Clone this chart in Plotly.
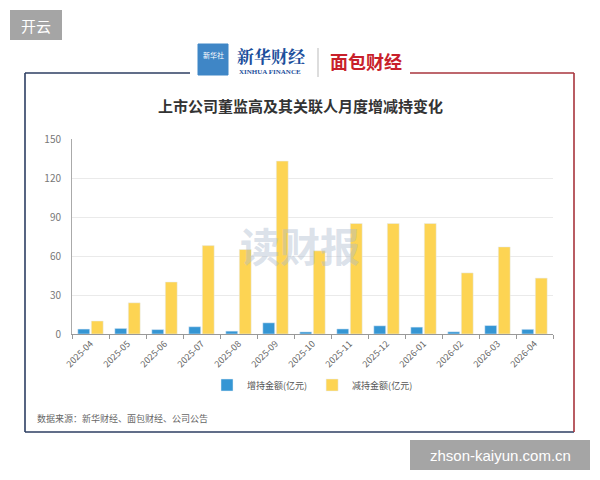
import plotly.graph_objects as go

months = ["2025-04", "2025-05", "2025-06", "2025-07", "2025-08", "2025-09", "2025-10",
          "2025-11", "2025-12", "2026-01", "2026-02", "2026-03", "2026-04"]
increase = [3.8, 4.3, 3.4, 5.6, 2.2, 8.6, 1.6, 3.9, 6.3, 5.3, 1.7, 6.5, 3.6]
decrease = [10, 24, 40, 68, 65, 133, 64, 85, 85, 85, 47, 67, 43]
y_ticks = [0, 30, 60, 90, 120, 150]

title = "上市公司董监高及其关联人月度增减持变化"
name_inc = "增持金额(亿元)"
name_dec = "减持金额(亿元)"
source = "数据来源：新华财经、面包财经、公司公告"

CJK = "Noto Sans CJK SC"
W, H = 600, 480
L, R, T, B = 72, 553, 139, 334  # plot area in pixels


def px(x):
    return (x - L) / (R - L)


def py(y):
    return (B - y) / (B - T)


fig = go.Figure()
fig.add_trace(go.Bar(x=months, y=increase, name=name_inc, marker_color="#3596d4"))
fig.add_trace(go.Bar(x=months, y=decrease, name=name_dec, marker_color="#fdd453"))

shapes = []
blue_line = "#2c3e62"
red_line = "#a8343c"
shapes.append(dict(type="line", xref="paper", yref="paper", x0=px(25), y0=py(73), x1=px(25), y1=py(432),
                   line=dict(color=blue_line, width=1.6)))
shapes.append(dict(type="line", xref="paper", yref="paper", x0=px(25), y0=py(73), x1=px(190), y1=py(73),
                   line=dict(color=blue_line, width=1.6)))
shapes.append(dict(type="line", xref="paper", yref="paper", x0=px(25), y0=py(432), x1=px(574), y1=py(432),
                   line=dict(color=blue_line, width=1.6)))
shapes.append(dict(type="line", xref="paper", yref="paper", x0=px(410), y0=py(73), x1=px(574), y1=py(73),
                   line=dict(color=red_line, width=1.6)))
shapes.append(dict(type="line", xref="paper", yref="paper", x0=px(574), y0=py(73), x1=px(574), y1=py(432),
                   line=dict(color=red_line, width=1.6)))
shapes.append(dict(type="rect", xref="paper", yref="paper", x0=px(198), y0=py(44), x1=px(228), y1=py(75),
                   fillcolor="#3f86c6", line=dict(color="#3f86c6", width=1)))
shapes.append(dict(type="line", xref="paper", yref="paper", x0=px(318), y0=py(48), x1=px(318), y1=py(77),
                   line=dict(color="#bbbbbb", width=1)))
shapes.append(dict(type="rect", xref="paper", yref="paper", x0=px(10), y0=py(10), x1=px(62), y1=py(40),
                   fillcolor="#a5a5a5", line=dict(width=0)))
shapes.append(dict(type="rect", xref="paper", yref="paper", x0=px(410), y0=py(440), x1=px(590), y1=py(470),
                   fillcolor="#a5a5a5", line=dict(width=0)))

ann = []


def text(x, y, s, size, color, anchor="center", family=CJK, bold=False, opacity=1.0):
    if bold:
        s = "<b>" + s + "</b>"
    ann.append(dict(x=px(x), y=py(y), xref="paper", yref="paper", text=s, showarrow=False,
                    xanchor=anchor, yanchor="middle", opacity=opacity,
                    font=dict(size=size, color=color, family=family)))


text(36, 25, "开云", 15, "white")
text(500, 455, "zhson-kaiyun.com.cn", 15, "white", family="Liberation Sans")
text(213, 55, "新华社", 7, "white")
text(271, 56, "新华财经", 17, "#1d4f9c", family="Noto Serif CJK SC, " + CJK, bold=True)
text(270, 72, "XINHUA FINANCE", 7, "#1d4f9c", family="Liberation Serif", bold=True)
text(366, 61, "面包财经", 18, "#c8202a", bold=True)
text(300, 105, title, 15, "#333333", bold=True)
text(300, 245, "读财报", 40, "rgba(170,185,205,0.42)", bold=True)
text(35, 418, source, 9, "#666666", anchor="left")

fig.update_layout(
    width=W, height=H,
    margin=dict(l=L, r=W - R, t=T, b=H - B),
    paper_bgcolor="white", plot_bgcolor="white",
    barmode="group", bargap=0.27, bargroupgap=0.12,
    font=dict(family=CJK, color="#666666", size=9),
    showlegend=True,
    legend=dict(orientation="h", x=0.5, xanchor="center", y=py(385), yanchor="middle",
                font=dict(size=9, color="#555555", family=CJK), itemwidth=30),
    shapes=shapes,
    annotations=ann,
)
fig.update_xaxes(
    type="category", tickangle=-45, showline=True, linecolor="#999999", linewidth=1,
    ticks="outside", tickson="boundaries", ticklen=4, tickcolor="#999999",
    tickfont=dict(size=9, color="#666666"), showgrid=False,
)
fig.update_yaxes(
    range=[0, 150], tickvals=y_ticks, showline=True, linecolor="#aaaaaa", linewidth=1,
    gridcolor="#eaeaea", zeroline=False, tickfont=dict(size=10, color="#777777"),
    ticks="", ticklabelstandoff=8,
)

fig.write_html("out.html")
